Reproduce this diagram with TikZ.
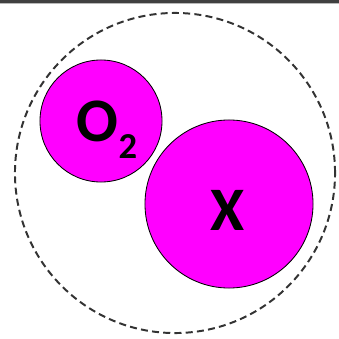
\documentclass[tikz,border=0pt]{standalone}
\usepackage{fontspec}
\setmainfont{Carlito}
\usetikzlibrary{positioning}
\definecolor{molmagenta}{RGB}{255,0,255}
\definecolor{bardark}{RGB}{64,64,64}
\definecolor{barlight}{RGB}{185,185,185}

\begin{document}
\begin{tikzpicture}[x=0.025cm, y=-0.025cm, every node/.style={font=\bfseries}]
\tikzset{
  molecule/.style={circle, draw=black, fill=molmagenta, line width=0.6pt, inner sep=0pt},
  moltext/.style={anchor=base, inner sep=0pt, font=\fontsize{44}{44}\selectfont\bfseries},
}
\useasboundingbox (0,0) rectangle (339,339);

% Top bar
\fill[bardark] (0,0) rectangle (339,3);
\fill[barlight] (0,3) rectangle (339,4.5);

% Dashed boundary
\node[circle, draw=black!80, dash pattern=on 5pt off 3pt, line width=1.4pt, minimum size=8cm] (cell) at (175,173) {};

% Molecules
\node[molecule, minimum size=3.05cm] (o2) at (101,121) {};
\node[molecule, minimum size=4.2cm] (xmol) at (229,204) {};

% Labels
\node[moltext] (o2label) at ([shift={(6,21)}]o2.center) {O\raisebox{-0.4cm}{\fontsize{26}{26}\selectfont\bfseries 2}};
\node[moltext] (xlabel) at ([shift={(-1,26)}]xmol.center) {X};

\end{tikzpicture}
\end{document}
